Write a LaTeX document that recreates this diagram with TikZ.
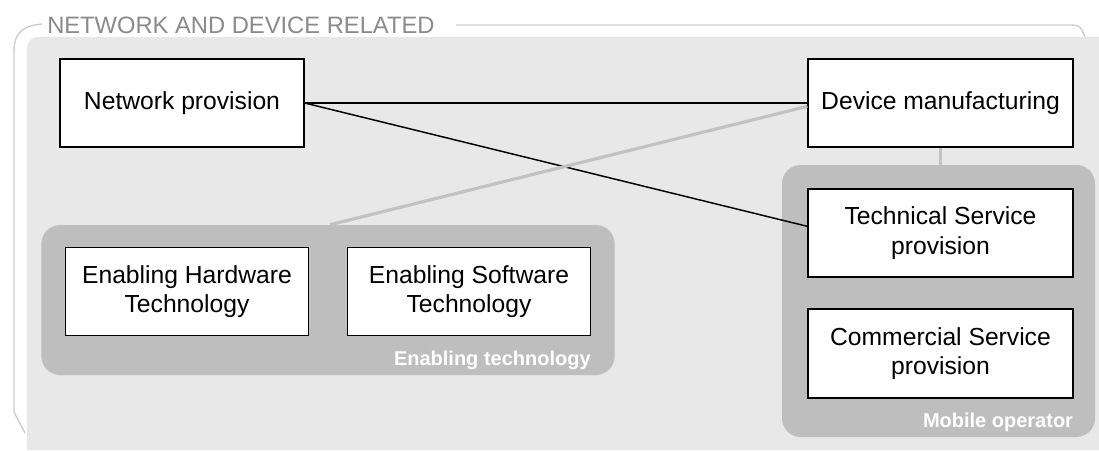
\documentclass[tikz,border=0pt]{standalone}
\usepackage{fontspec}
\setmainfont{Liberation Sans}
\usetikzlibrary{positioning}
\definecolor{areagrey}{rgb}{0.91, 0.91, 0.91}
\definecolor{groupgrey}{rgb}{0.745, 0.745, 0.745}
\definecolor{framegrey}{rgb}{0.80, 0.80, 0.80}
\definecolor{titlegrey}{rgb}{0.54, 0.54, 0.54}
\definecolor{linkgrey}{rgb}{0.76, 0.76, 0.76}
\tikzset{role/.style={draw, line width=1pt, fill=white, align=center, inner sep=0pt,
    font=\fontsize{18.5}{22}\selectfont}}
\tikzset{group/.style={fill=groupgrey, rounded corners=14pt, inner sep=0pt}}
\tikzset{grouplabel/.style={text=white, font=\fontsize{15}{17}\selectfont\bfseries, inner sep=0pt}}
\tikzset{edge/.style={line width=1.1pt, color=black}}
\tikzset{ledge/.style={line width=2.4pt, color=linkgrey}}

\begin{document}
\begin{tikzpicture}[x=0.75pt, y=-0.75pt]%{{{
        \useasboundingbox (0, 0) rectangle (1099, 450);

        \fill[areagrey] (27, 450) [rounded corners=8pt] -- (27, 37) [sharp corners] -- (1099, 37)
        -- (1099, 450) -- cycle;
        \draw[framegrey, line width=1pt] (42, 24) .. controls (16, 26) and (14, 40) .. (14, 52)
        -- (14, 412) -- (25, 433);
        \draw[framegrey, line width=1pt] (456, 25) -- (1066, 25) .. controls (1080, 25) .. (1085, 37);
        \node[anchor=base west, inner sep=0pt, text=titlegrey, font=\fontsize{17.8}{20}\selectfont]
        (title) at (47, 33) {NETWORK AND DEVICE RELATED};

        \node[group, minimum width=430pt, minimum height=112.5pt] (enab) at (328, 300) {};
        \node[group, minimum width=234.75pt, minimum height=204pt] (mob) at (938.5, 301) {};

        \node[role, minimum width=183pt, minimum height=66pt] (net) at (182, 103) {Network provision};
        \node[role, minimum width=198.75pt, minimum height=66pt] (dev) at (940.5, 103)
        {Device manufacturing};
        \node[role, minimum width=198.75pt, minimum height=66pt] (tech) at (940.5, 233)
        {Technical Service\\provision};
        \node[role, minimum width=198.75pt, minimum height=66.75pt] (comm) at (940.5, 353.5)
        {Commercial Service\\provision};
        \node[role, minimum width=182.25pt, minimum height=66pt] (hard) at (187, 291.5)
        {Enabling Hardware\\Technology};
        \node[role, minimum width=182.25pt, minimum height=66pt] (soft) at (469, 291.5)
        {Enabling Software\\Technology};

        \node[grouplabel, anchor=base east] (enablbl) at ([xshift=-18pt, yshift=7.5pt]enab.south east)
        {Enabling technology};
        \node[grouplabel, anchor=base east] (moblbl) at ([xshift=-16.5pt, yshift=7pt]mob.south east)
        {Mobile operator};

        \draw [edge] (net.east) -- (dev.west);
        \draw [edge] (net.east) -- ([yshift=5pt]tech.west);
        \draw [ledge] ([yshift=-2.5pt]dev.west) -- ([xshift=1.5pt]enab.north);
        \draw [ledge] (dev.south) -- (mob.north -| dev.south);

   \end{tikzpicture}
\end{document}
